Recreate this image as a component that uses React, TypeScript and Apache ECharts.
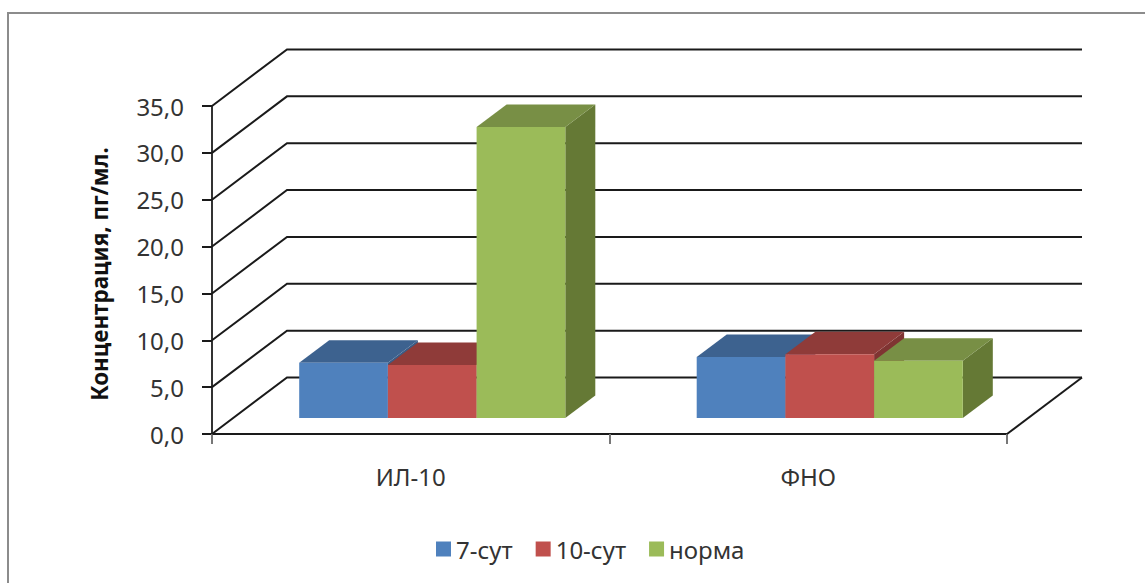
import React, { useEffect, useRef } from "react";
import * as echarts from "echarts";

const categories = ["ИЛ-10", "ФНО"];
const ticks = [0, 5, 10, 15, 20, 25, 30, 35];
const seriesNames = ["7-сут", "10-сут", "норма"];
const sut7 = [5.9, 6.5];
const sut10 = [5.65, 6.8];
const norma = [31.05, 6.1];
const frontColors = ["#4F81BD", "#C0504D", "#9BBB59"];
const topColors = ["#3D628F", "#8F3B39", "#788F45"];
const sideColors = ["#3A5C86", "#7F3432", "#657935"];

const FONT = "Noto Sans";
const TEXT = "#333333";
const BACK_DX = 75;
const BACK_DY = 56.5;
const BAR_DX = 30;
const BAR_DY = 22.5;
const FRONT_DY = 16;
const BAR_W = 88.7;
const GROUP_SHIFT = 21.5;
const LINE = "#1a1a1a";

function barSeries(name: string, values: number[], idx: number) {
  return {
    type: "custom",
    name,
    z: 5 + idx,
    itemStyle: { color: frontColors[idx] },
    data: values.map((v, i) => [i, v]),
    renderItem: (_p: any, api: any) => {
      const cat = api.value(0);
      const val = api.value(1);
      const top = api.coord([cat, val]);
      const zero = api.coord([cat, 0]);
      const x0 = top[0] + GROUP_SHIFT + (idx - 1.5) * BAR_W;
      const x1 = x0 + BAR_W;
      const y0 = top[1] - FRONT_DY;
      const y1 = zero[1] - FRONT_DY;
      return {
        type: "group",
        children: [
          {
            type: "polygon",
            shape: { points: [[x1, y0], [x1 + BAR_DX, y0 - BAR_DY], [x1 + BAR_DX, y1 - BAR_DY], [x1, y1]] },
            style: { fill: sideColors[idx] },
          },
          {
            type: "polygon",
            shape: { points: [[x0, y0], [x0 + BAR_DX, y0 - BAR_DY], [x1 + BAR_DX, y0 - BAR_DY], [x1, y0]] },
            style: { fill: topColors[idx] },
          },
          {
            type: "rect",
            shape: { x: x0, y: y0, width: BAR_W, height: y1 - y0 },
            style: { fill: frontColors[idx] },
          },
        ],
      };
    },
  };
}

const wallSeries = {
  type: "custom",
  silent: true,
  z: 1,
  legendHoverLink: false,
  data: ticks.map((t) => [0, t]),
  renderItem: (params: any, api: any) => {
    const t = api.value(1);
    const y = api.coord([0, t])[1];
    const L = params.coordSys.x;
    const R = L + params.coordSys.width;
    const children: any[] = [
      {
        type: "polyline",
        shape: { points: [[L, y], [L + BACK_DX, y - BACK_DY], [R + BACK_DX, y - BACK_DY]] },
        style: { fill: "none", stroke: LINE, lineWidth: 2 },
      },
    ];
    if (t === 0) {
      children.push({
        type: "line",
        shape: { x1: R + BACK_DX, y1: y - BACK_DY, x2: R, y2: y },
        style: { stroke: LINE, lineWidth: 2 },
      });
    }
    return { type: "group", children };
  },
};

export default function App() {
  const ref = useRef<HTMLDivElement>(null);
  useEffect(() => {
    const chart = echarts.init(ref.current!, undefined, { renderer: "svg" });
    chart.setOption({
      animation: false,
      backgroundColor: "#ffffff",
      grid: { left: 212, right: 138, top: 106, bottom: 149 },
      legend: {
        left: 431,
        top: 532,
        itemWidth: 15,
        itemHeight: 15,
        itemGap: 23,
        data: seriesNames.map((name, i) => ({
          name,
          icon: "rect",
          itemStyle: { color: frontColors[i] },
        })),
        textStyle: { fontFamily: FONT, fontSize: 24, color: TEXT },
      },
      xAxis: {
        type: "category",
        data: categories,
        axisLine: { show: true, lineStyle: { color: LINE, width: 2 } },
        axisTick: { show: true, length: 10, lineStyle: { color: "#777777", width: 2 } },
        axisLabel: { fontFamily: FONT, fontSize: 24, color: TEXT, margin: 30 },
      },
      yAxis: {
        type: "value",
        min: 0,
        max: 35,
        interval: 5,
        name: "Концентрация, пг/мл.",
        nameLocation: "middle",
        nameGap: 102,
        nameTextStyle: { fontFamily: FONT, fontSize: 22.4, fontWeight: "bold", color: "#111111", padding: [0, 8, 0, 0] },
        axisLine: { show: true, lineStyle: { color: "#333333", width: 2 } },
        axisTick: { show: true, length: 10, lineStyle: { color: LINE, width: 2 } },
        splitLine: { show: false },
        axisLabel: {
          fontFamily: FONT,
          fontSize: 24,
          color: TEXT,
          margin: 28,
          padding: [8, 0, 0, 0],
          formatter: (v: number) => v.toFixed(1).replace(".", ","),
        },
      },
      series: [
        wallSeries,
        barSeries(seriesNames[0], sut7, 0),
        barSeries(seriesNames[1], sut10, 1),
        barSeries(seriesNames[2], norma, 2),
      ],
      graphic: [
        {
          type: "rect",
          silent: true,
          z: -1,
          shape: { x: 8, y: 13, width: 1300, height: 700 },
          style: { fill: "none", stroke: "#8c8c8c", lineWidth: 2 },
        },
      ],
    });
    return () => chart.dispose();
  }, []);
  return <div ref={ref} style={{ position: "fixed", left: 0, top: 0, width: 1145, height: 583 }} />;
}
